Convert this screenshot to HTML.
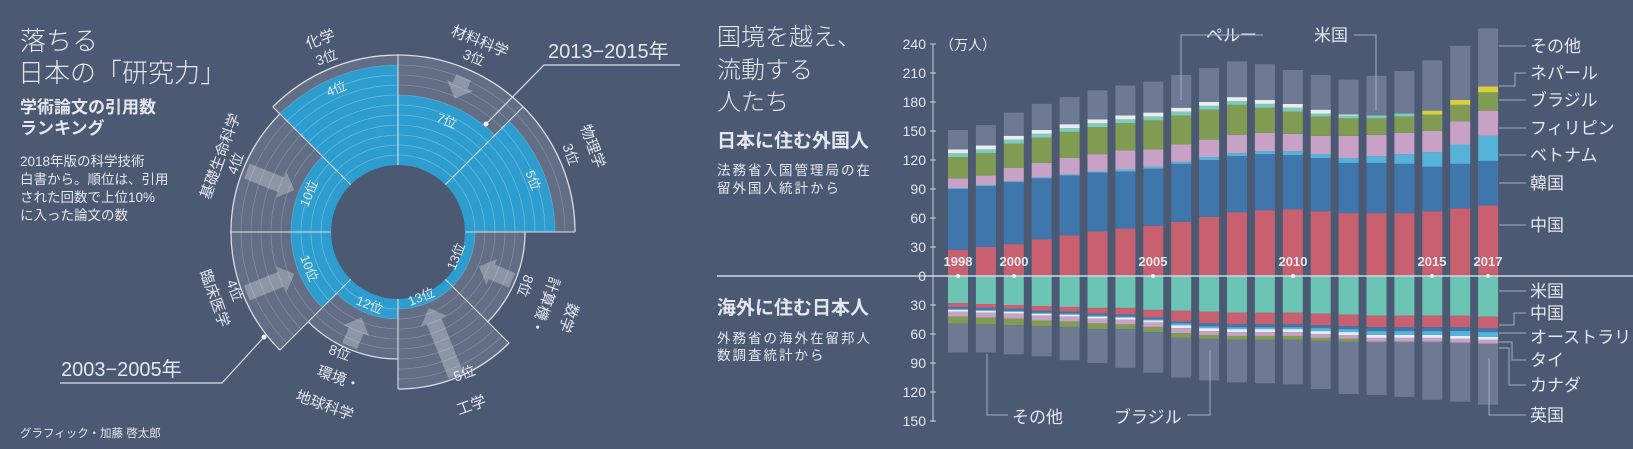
<!DOCTYPE html>
<html><head><meta charset="utf-8">
<style>
html,body{margin:0;padding:0;background:#4b5973;}
svg{display:block;}
text{font-family:"Liberation Sans","Noto Sans CJK JP",sans-serif;fill:#e4e8ee;}
.b{font-weight:bold;}
</style></head>
<body>
<svg id="s" width="1633" height="449" viewBox="0 0 1633 449" xmlns="http://www.w3.org/2000/svg">
<rect width="1633" height="449" fill="#4b5973"/>
<g id="polar"></g>
<g id="bars"></g>

<!-- left texts -->
<text x="20" y="50" font-size="26" font-weight="300">落ちる</text>
<text x="18" y="82" font-size="26" font-weight="300">日本の「研究力」</text>
<text x="20" y="113" font-size="17" class="b">学術論文の引用数</text>
<text x="20" y="134" font-size="17" class="b">ランキング</text>
<text x="20" y="166" font-size="13.5">2018年版の科学技術</text>
<text x="20" y="184" font-size="13.5">白書から。順位は、引用</text>
<text x="20" y="202" font-size="13.5">された回数で上位10%</text>
<text x="20" y="220" font-size="13.5">に入った論文の数</text>
<text x="20" y="437" font-size="11.5" fill="#c8ced8">グラフィック・加藤 啓太郎</text>

<!-- polar annotations -->
<text x="548" y="58" font-size="20">2013−2015年</text>
<polyline points="680,65 544,65 486,124" fill="none" stroke="#d8dde6" stroke-width="1.2"/>
<circle cx="486" cy="124" r="2.5" fill="#eef"/>
<text x="61" y="376" font-size="20">2003−2005年</text>
<polyline points="60,383 222,383 264,337" fill="none" stroke="#d8dde6" stroke-width="1.2"/>
<circle cx="264" cy="337" r="2.5" fill="#eef"/>

<!-- category labels -->
<g font-size="15">
<text transform="translate(322,44) rotate(-20)" text-anchor="middle">化学</text>
<text transform="translate(328,62) rotate(-20)" text-anchor="middle" font-size="14">3位</text>
<text transform="translate(478,46) rotate(22)" text-anchor="middle">材料科学</text>
<text transform="translate(472,62) rotate(22)" text-anchor="middle" font-size="14">3位</text>
<text transform="translate(588,148) rotate(70)" text-anchor="middle">物理学</text>
<text transform="translate(566,156) rotate(70)" text-anchor="middle" font-size="14">3位</text>
<text transform="translate(521,284) rotate(110)" text-anchor="middle" font-size="14">8位</text>
<text transform="translate(540,304) rotate(110)" text-anchor="middle">計算機・</text>
<text transform="translate(564,316) rotate(110)" text-anchor="middle">数学</text>
<text transform="translate(466,378) rotate(-20)" text-anchor="middle" font-size="14">5位</text>
<text transform="translate(473,410) rotate(-20)" text-anchor="middle">工学</text>
<text transform="translate(338,357) rotate(20)" text-anchor="middle" font-size="14">8位</text>
<text transform="translate(337,383) rotate(20)" text-anchor="middle">環境・</text>
<text transform="translate(323,410) rotate(20)" text-anchor="middle">地球科学</text>
<text transform="translate(230,292) rotate(70)" text-anchor="middle" font-size="14">4位</text>
<text transform="translate(210,300) rotate(70)" text-anchor="middle">臨床医学</text>
<text transform="translate(225,158) rotate(-70)" text-anchor="middle">基礎生命科学</text>
<text transform="translate(240,165) rotate(-70)" text-anchor="middle" font-size="14">4位</text>
</g>
<g font-size="13">
<text transform="translate(338,93) rotate(-22)" text-anchor="middle">4位</text>
<text transform="translate(445,125) rotate(22)" text-anchor="middle">7位</text>
<text transform="translate(529,182) rotate(68)" text-anchor="middle">5位</text>
<text transform="translate(460,258) rotate(-68)" text-anchor="middle">13位</text>
<text transform="translate(423,301) rotate(-22)" text-anchor="middle">13位</text>
<text transform="translate(368,309) rotate(22)" text-anchor="middle">12位</text>
<text transform="translate(305,270) rotate(68)" text-anchor="middle">10位</text>
<text transform="translate(313,195) rotate(-68)" text-anchor="middle">10位</text>
</g>

<!-- right titles -->
<text x="717" y="45" font-size="24" font-weight="300">国境を越え、</text>
<text x="717" y="78" font-size="24" font-weight="300">流動する</text>
<text x="717" y="110" font-size="24" font-weight="300">人たち</text>
<text x="717" y="147" font-size="19" class="b">日本に住む外国人</text>
<text x="717" y="175" font-size="13.5" letter-spacing="2">法務省入国管理局の在</text>
<text x="717" y="193" font-size="13.5" letter-spacing="2">留外国人統計から</text>
<text x="717" y="314" font-size="19" class="b">海外に住む日本人</text>
<text x="717" y="343" font-size="13.5" letter-spacing="2">外務省の海外在留邦人</text>
<text x="717" y="360" font-size="13.5" letter-spacing="2">数調査統計から</text>

<!-- axis -->
<line x1="933" y1="44" x2="933" y2="422" stroke="#c8d0dc" stroke-width="1"/>
<g font-size="14" text-anchor="end">
<text x="926" y="49">240</text><text x="926" y="78">210</text><text x="926" y="107">180</text>
<text x="926" y="136">150</text><text x="926" y="165">120</text><text x="926" y="194">90</text>
<text x="926" y="223">60</text><text x="926" y="252">30</text><text x="926" y="281">0</text>
<text x="926" y="310">30</text><text x="926" y="339">60</text><text x="926" y="368">90</text>
<text x="926" y="397">120</text><text x="926" y="426">150</text>
</g>
<text x="940" y="50" font-size="14">（万人）</text>

<g id="over"></g>
<line x1="717" y1="276" x2="1633" y2="276" stroke="#d0d7e2" stroke-width="1.5"/>

<g font-size="13" text-anchor="middle" class="b">
<text x="958" y="266">1998</text><text x="1014" y="266">2000</text><text x="1153" y="266">2005</text>
<text x="1293" y="266">2010</text><text x="1432" y="266">2015</text><text x="1488" y="266">2017</text>
</g>
<g fill="#f0f0f0">
<circle cx="958" cy="276" r="2"/><circle cx="1014" cy="276" r="2"/><circle cx="1153" cy="276" r="2"/>
<circle cx="1293" cy="276" r="2"/><circle cx="1432" cy="276" r="2"/><circle cx="1488" cy="276" r="2"/>
</g>

<!-- right legend -->
<g font-size="17">
<text x="1530" y="52">その他</text>
<text x="1530" y="79">ネパール</text>
<text x="1530" y="106">ブラジル</text>
<text x="1530" y="134">フィリピン</text>
<text x="1530" y="161">ベトナム</text>
<text x="1530" y="189">韓国</text>
<text x="1530" y="231">中国</text>
<text x="1530" y="297">米国</text>
<text x="1530" y="319">中国</text>
<text x="1530" y="343">オーストラリア</text>
<text x="1530" y="366">タイ</text>
<text x="1530" y="391">カナダ</text>
<text x="1530" y="421">英国</text>
<text x="1206" y="41">ペルー</text>
<text x="1314" y="41">米国</text>
<text x="1012" y="423">その他</text>
<text x="1114" y="423">ブラジル</text>
</g>
<g fill="none" stroke="#9fb0c6" stroke-width="1">
<line x1="1499" y1="46" x2="1526" y2="46"/>
<polyline points="1499,86 1515,86 1515,73 1526,73"/>
<line x1="1499" y1="100" x2="1526" y2="100"/>
<line x1="1499" y1="128" x2="1526" y2="128"/>
<line x1="1499" y1="155" x2="1526" y2="155"/>
<line x1="1499" y1="183" x2="1526" y2="183"/>
<line x1="1499" y1="225" x2="1526" y2="225"/>
<line x1="1499" y1="291" x2="1526" y2="291"/>
<polyline points="1499,325 1514,325 1514,313 1526,313"/>
<line x1="1499" y1="333" x2="1526" y2="333"/>
<polyline points="1499,342 1512,342 1512,360 1526,360"/>
<polyline points="1499,348 1509,348 1509,385 1526,385"/>
<polyline points="1489,358 1489,415 1526,415"/>
<polyline points="1263,35 1181,35 1181,100"/>
<polyline points="1354,35 1376,35 1376,110"/>
<polyline points="1008,415 987,415 987,354"/>
<polyline points="1187,415 1210,415 1210,350"/>
</g>
</svg>
<script>
(function(){
var NS="http://www.w3.org/2000/svg";
function el(p,t,a){var e=document.createElementNS(NS,t);for(var k in a)e.setAttribute(k,a[k]);p.appendChild(e);return e;}
var P=document.getElementById("polar");
var cx=398,cy=232,r0=67;
function R(rank){return 207-10*rank;}
function pt(r,a){a=a*Math.PI/180;return [cx+r*Math.sin(a),cy-r*Math.cos(a)];}
function wedge(r1,r2,a1,a2){
 var p1=pt(r2,a1),p2=pt(r2,a2),p3=pt(r1,a2),p4=pt(r1,a1);
 return "M"+p1+" A"+r2+","+r2+" 0 0 1 "+p2+" L"+p3+" A"+r1+","+r1+" 0 0 0 "+p4+" Z";
}
function arc(r,a1,a2){var p1=pt(r,a1),p2=pt(r,a2);return "M"+p1+" A"+r+","+r+" 0 0 1 "+p2;}
var old=[3,3,8,5,8,4,4,3], nw=[7,5,13,13,12,10,10,4];
for(var i=0;i<8;i++){
 var a1=i*45,a2=a1+45,ro=R(old[i]),rn=R(nw[i]);
 el(P,"path",{d:wedge(r0,ro,a1,a2),fill:"rgba(255,255,255,0.13)"});
 el(P,"path",{d:wedge(r0,rn,a1,a2),fill:"#2d9dd0"});
 for(var r=r0+10;r<ro;r+=10){
   el(P,"path",{d:arc(r,a1,a2),fill:"none",stroke:r<rn?"rgba(255,255,255,0.28)":"rgba(255,255,255,0.2)","stroke-width":0.8});
 }
 el(P,"path",{d:arc(ro,a1,a2),fill:"none",stroke:"#d8dde6","stroke-width":1.3});
}
for(var i=0;i<8;i++){
 var a=i*45,rm=Math.max(R(old[i]),R(old[(i+7)%8]));
 var p1=pt(r0,a),p2=pt(rm,a);
 el(P,"line",{x1:p1[0],y1:p1[1],x2:p2[0],y2:p2[1],stroke:"#d8dde6","stroke-width":1.1});
}
function arrow(a,rs,re){
 var ang=a*Math.PI/180, ux=-Math.sin(ang), uy=Math.cos(ang);
 var s=pt(rs,a); var L=rs-re, w=8, hw=14, hl=14;
 var px=-uy,py=ux;
 var bx=s[0]+ux*(L-hl),by=s[1]+uy*(L-hl),tx=s[0]+ux*L,ty=s[1]+uy*L;
 var pts=[[s[0]+px*w,s[1]+py*w],[bx+px*w,by+py*w],[bx+px*hw,by+py*hw],[tx,ty],[bx-px*hw,by-py*hw],[bx-px*w,by-py*w],[s[0]-px*w,s[1]-py*w]];
 el(P,"polygon",{points:pts.map(function(q){return q.join(",")}).join(" "),fill:"rgba(255,255,255,0.28)"});
}
arrow(23,168,145);arrow(113,124,88);arrow(158,155,82);arrow(203,124,93);arrow(248,163,112);arrow(292,163,112);
var B=document.getElementById("bars");
var tot=[151,156,169,178,185,192,197,201,208,215,222,219,213,208,203,207,212,223,238,256];
var cn=[27,30,33,38,42,46,49,52,56,61,66,68,69,67,65,65,65,67,70,73];
var kr=[90,93,97,101,104,107,108,111,116,120,124,126,125,122,117,117,116,113,116,119];
var vn=[1,1,1,1,1,1,2,2,2,3,3,3,4,4,5,7,10,15,20,26];
var ph=[101,104,112,117,122,126,130,131,136,141,146,148,147,145,145,146,148,150,160,171];
var br=[123,127,137,143,149,154,158,161,166,172,177,174,170,165,163,163,165,167,177,190];
var np=[0,0,0,0,0,0,0,0,0,0,0,0,0,0,0,0,0,4,5,6];
var pe=[4,4,4,4,4,4,4,4,4,4,4,4,4,3,3,3,3,0,0,0];
var us=[4,4,4,4,4,4,4,4,4,4,4,4,4,4,1,0,0,0,0,0];
var bus=[28,29,30,31,32,33,33,35,36,37,38,38,38,39,40,41,41,41,41,42];
var bcn=[4,4,4,5,5,6,7,8,11,12,12,12,12,12,12,12,12,12,12,12];
var bau=[2,2,2,2,2,2,2,2,2,3,3,3,3,3,3,4,4,4,4,4];
var bth=[1,1,1,1,1,1,1,1,2,2,2,2,2,3,3,4,4,4,5,5];
var bca=[2,2,2,2,2,2,2,2,3,3,3,3,3,3,3,3,3,3,3,3];
var buk=[5,5,5,5,5,5,5,5,5,4,4,4,4,4,4,4,4,4,4,4];
var bbr=[7,7,7,6,6,6,5,5,5,4,4,4,4,3,3,0,0,0,0,0];
var btot=[79,79,81,83,87,90,95,100,105,108,110,111,112,117,122,123,125,128,130,133];
var K=0.967, Z=276;
function Y(v){return Z-v*K;}
var GR="#6e7a93";
for(var i=0;i<20;i++){
 var x=948+27.9*i, w=20;
 function seg(a,b,c){ if(b<=a)return; el(B,"rect",{x:x,y:Y(b),width:w,height:(b-a)*K,fill:c}); }
 function nseg(a,b,c){ if(b<=a)return; el(B,"rect",{x:x,y:Z+a*K,width:w,height:(b-a)*K,fill:c}); }
 var v=0;
 seg(0,cn[i],"#c9606f");
 seg(cn[i],kr[i],"#3f77ac");
 seg(kr[i],kr[i]+vn[i],"#56b3d8");
 seg(kr[i]+vn[i],ph[i],"#c8a2c6");
 seg(ph[i],br[i],"#7f9c52");
 v=br[i]; seg(v,v+np[i],"#dccf3e"); v+=np[i];
 seg(v,v+pe[i],"#7fcabd"); v+=pe[i];
 seg(v,v+us[i],"#e9edf0"); v+=us[i];
 seg(v,tot[i],GR);
 var u=0;
 nseg(0,bus[i],"#6cc4b4"); u=bus[i];
 nseg(u,u+bcn[i],"#c9606f"); u+=bcn[i];
 nseg(u,u+bau[i],"#3f77ac"); u+=bau[i];
 nseg(u,u+bth[i],"#56b3d8"); u+=bth[i];
 nseg(u,u+bca[i],"#e9edf0"); u+=bca[i];
 nseg(u,u+buk[i],"#c8a2c6"); u+=buk[i];
 nseg(u,u+bbr[i],"#7f9c52"); u+=bbr[i];
 nseg(u,btot[i],GR);
}
var A=document.getElementById("over");
for(var j=0;j<14;j++){var yy=44+29*j; el(A,"line",{x1:930,y1:yy,x2:936,y2:yy,stroke:"#c8d0dc","stroke-width":1});}
})();
</script>
</body></html>
